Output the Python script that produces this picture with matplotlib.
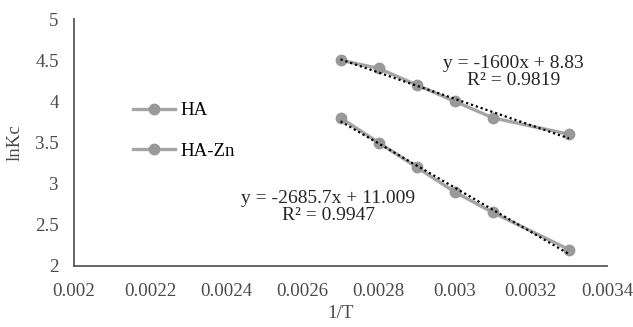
import numpy as np
import matplotlib
matplotlib.use("Agg")
import matplotlib.pyplot as plt

plt.rcParams["font.family"] = ["Liberation Serif", "DejaVu Serif"]

inv_t = [0.0027, 0.0028, 0.0029, 0.0030, 0.0031, 0.0033]
lnkc_ha = [3.8, 3.5, 3.2, 2.9, 2.65, 2.2]
lnkc_hazn = [4.5, 4.4, 4.2, 4.0, 3.8, 3.6]
fit_ha = (-2685.7, 11.009)
fit_hazn = (-1600.0, 8.83)
xticks = [0.002, 0.0022, 0.0024, 0.0026, 0.0028, 0.003, 0.0032, 0.0034]
xtick_labels = ["0.002", "0.0022", "0.0024", "0.0026", "0.0028", "0.003", "0.0032", "0.0034"]
yticks = [2, 2.5, 3, 3.5, 4, 4.5, 5]
ytick_labels = ["2", "2.5", "3", "3.5", "4", "4.5", "5"]

LINE = "#a5a5a5"
MARK = "#999999"
TXT = "#4a4a4a"
FS = 13.6

fig = plt.figure(figsize=(6.33, 3.27), dpi=100)
ax = fig.add_axes([74 / 633, 1 - 266 / 327, 533 / 633, 247 / 327])

for y, lbl in [(lnkc_ha, "HA"), (lnkc_hazn, "HA-Zn")]:
    ax.plot(inv_t, y, color=LINE, lw=2.4, marker="o", ms=7.5,
            mfc=MARK, mec=MARK, label=lbl, zorder=2)

# linear trendlines
xs = np.array([inv_t[0], inv_t[-1]])
for m, b in [fit_ha, fit_hazn]:
    ax.plot(xs, m * xs + b, color="black", ls=(0, (1, 1.3)), lw=1.6, zorder=3)

ax.text(0.003155, 4.356, "y = -1600x + 8.83\nR² = 0.9819", ha="center", va="center",
        fontsize=14, linespacing=1.05, color="#262626")
ax.text(0.002668, 2.717, "y = -2685.7x + 11.009\nR² = 0.9947", ha="center", va="center",
        fontsize=14, linespacing=1.05, color="#262626")

ax.set_xlim(0.002, 0.0034)
ax.set_ylim(2, 5)
ax.set_xticks(xticks)
ax.set_xticklabels(xtick_labels)
ax.set_yticks(yticks)
ax.set_yticklabels(ytick_labels)
ax.tick_params(length=0, labelsize=FS, labelcolor=TXT)
ax.tick_params(axis="x", pad=12)
ax.tick_params(axis="y", pad=11)
for s in ["top", "right"]:
    ax.spines[s].set_visible(False)
for s in ["left", "bottom"]:
    ax.spines[s].set_color("#595959")
    ax.spines[s].set_linewidth(1.3)

ax.set_xlabel("1/T", fontsize=FS, color=TXT, labelpad=4)
ax.set_ylabel("lnKc", fontsize=FS, color=TXT, labelpad=8)

ax.legend(loc="center left", bbox_to_anchor=(133 / 633, 1 - 131 / 327),
          bbox_transform=fig.transFigure, frameon=False, fontsize=FS,
          borderpad=0, handlelength=2.2, handletextpad=0.3, labelspacing=1.25,
          borderaxespad=0)

fig.savefig("out.png", dpi=100)
